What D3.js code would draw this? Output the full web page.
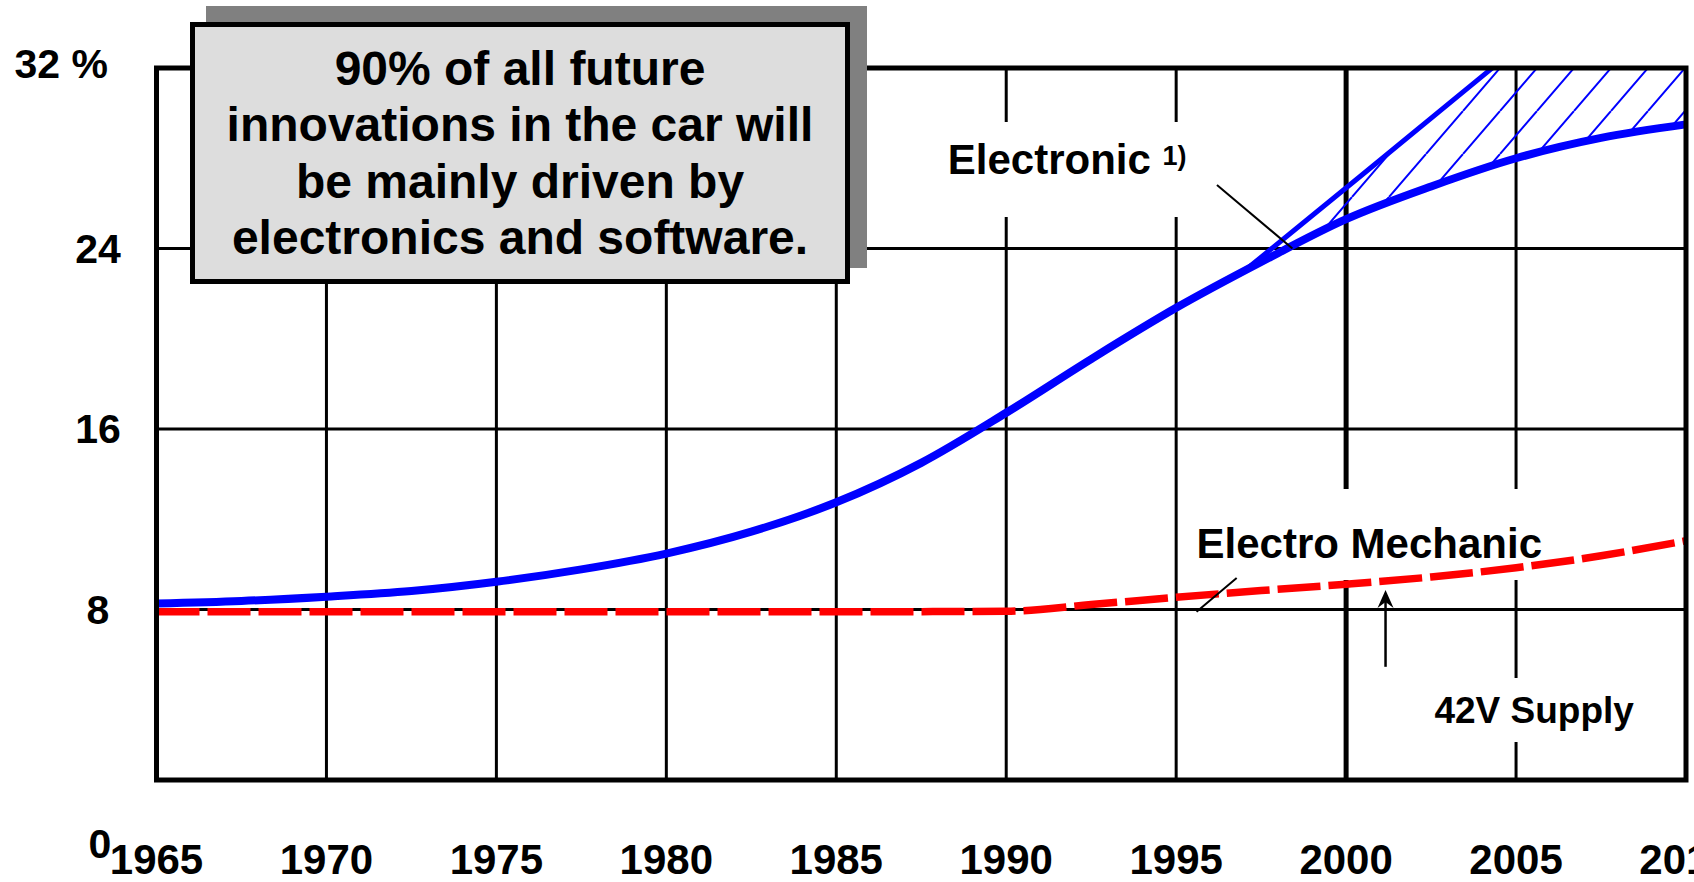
<!DOCTYPE html>
<html>
<head>
<meta charset="utf-8">
<script src="https://cdn.jsdelivr.net/npm/d3@7"></script>
<style>
  body { margin: 0; background: #fff; }
  svg { display: block; font-family: "Liberation Sans", Arial, sans-serif; font-weight: bold; }
</style>
</head>
<body>
<svg id="chart"></svg>
<script>
// x axis years (gridlines + labels)
var years = [1965, 1970, 1975, 1980, 1985, 1990, 1995, 2000, 2005, 2010];
// y gridlines and their labels
var yTicks = [8, 16, 24, 32];
var yTickLabels = ["8", "16", "24", "32 %"];

// Electronic share (solid blue)
var electronicYears  = [1965, 1967.5, 1970, 1972.5, 1975, 1977.5, 1980, 1982.5, 1985, 1987.5, 1990, 1992.5, 1995, 1997.5, 2000, 2002.5, 2005, 2007.5, 2010];
var electronicValues = [8.27, 8.38, 8.57, 8.82, 9.23, 9.78, 10.48, 11.45, 12.75, 14.5, 16.72, 19.1, 21.37, 23.4, 25.3, 26.75, 28.0, 28.9, 29.5];

// upper bound of the hatched band
var upperYears  = [1997.0, 2000.5, 2004.3];
var upperValues = [23.0, 27.3, 32];

// Electro Mechanic share (red dashed)
var mechanicYears  = [1965, 1970, 1975, 1980, 1985, 1990, 1992.5, 1995, 1997.5, 2000, 2002.5, 2005, 2007.5, 2010];
var mechanicValues = [7.9, 7.9, 7.9, 7.9, 7.9, 7.92, 8.22, 8.54, 8.84, 9.12, 9.44, 9.85, 10.38, 11.05];

var boxLines = ["90% of all future", "innovations in the car will", "be mainly driven by", "electronics and software."];

var W = 1694, H = 882;
var frameBottom = 780;

var x = d3.scaleLinear().domain([1965, 2010]).range([156.5, 1686]);
var y = d3.scaleLinear().domain([0, 32]).range([790, 68]);

var electronic = electronicYears.map(function(d, i) { return [d, electronicValues[i]]; });
var upper = upperYears.map(function(d, i) { return [d, upperValues[i]]; });
var mechanic = mechanicYears.map(function(d, i) { return [d, mechanicValues[i]]; });

var svg = d3.select("#chart").attr("width", W).attr("height", H);
var defs = svg.append("defs");

// hatch pattern for the band
var hatch = defs.append("pattern")
    .attr("id", "hatch")
    .attr("patternUnits", "userSpaceOnUse")
    .attr("x", 1685).attr("y", y(32))
    .attr("width", 37).attr("height", 43);
hatch.append("path")
    .attr("d", "M0,43L37,0M-37,43L0,0M37,43L74,0")
    .attr("stroke", "#0000ff").attr("stroke-width", 2).attr("fill", "none");

var line = d3.line().x(function(d) { return x(d[0]); }).y(function(d) { return y(d[1]); }).curve(d3.curveMonotoneX);

// clip: above the electronic curve
defs.append("clipPath").attr("id", "clipA").append("path")
    .attr("d", d3.area().x(function(d) { return x(d[0]); }).y0(y(32)).y1(function(d) { return y(d[1]); })
      .curve(d3.curveMonotoneX)(electronic));
// clip: below the upper bound
var clipB = defs.append("clipPath").attr("id", "clipB");
clipB.append("path")
    .attr("d", d3.area().x(function(d) { return x(d[0]); }).y0(frameBottom).y1(function(d) { return y(d[1]); })
      .curve(d3.curveMonotoneX)(upper));
clipB.append("rect")
    .attr("x", x(upperYears[upperYears.length - 1]) - 1).attr("y", y(32))
    .attr("width", x(2010) - x(upperYears[upperYears.length - 1]) + 1).attr("height", frameBottom - y(32));

// gridlines
svg.append("g").selectAll("line.v")
  .data(years.slice(1, -1))
  .enter().append("line")
    .attr("x1", function(d) { return x(d); }).attr("x2", function(d) { return x(d); })
    .attr("y1", y(32)).attr("y2", frameBottom)
    .attr("stroke", "#000")
    .attr("stroke-width", function(d) { return d === 2000 ? 5 : 3; });

svg.append("g").selectAll("line.h")
  .data(yTicks.slice(0, -1))
  .enter().append("line")
    .attr("x1", x(1965)).attr("x2", x(2010))
    .attr("y1", function(d) { return y(d); }).attr("y2", function(d) { return y(d); })
    .attr("stroke", "#000").attr("stroke-width", 3);

// white masks behind the annotation labels (they break the grid)
var masks = [[940, 122, 260, 95], [1180, 489, 380, 91], [1425, 678, 220, 64]];
svg.append("g").selectAll("rect")
  .data(masks)
  .enter().append("rect")
    .attr("x", function(d) { return d[0]; }).attr("y", function(d) { return d[1]; })
    .attr("width", function(d) { return d[2]; }).attr("height", function(d) { return d[3]; })
    .attr("fill", "#fff");

// hatched band
svg.append("g").attr("clip-path", "url(#clipA)")
  .append("g").attr("clip-path", "url(#clipB)")
  .append("rect")
    .attr("x", x(1965)).attr("y", y(32))
    .attr("width", x(2010) - x(1965)).attr("height", frameBottom - y(32))
    .attr("fill", "url(#hatch)");

// upper bound line
svg.append("path")
    .attr("d", line(upper))
    .attr("fill", "none").attr("stroke", "#0000ff").attr("stroke-width", 5);

// electronic curve
svg.append("path")
    .attr("d", line(electronic))
    .attr("fill", "none").attr("stroke", "#0000ff").attr("stroke-width", 8);

// electro mechanic curve
svg.append("path")
    .attr("d", line(mechanic))
    .attr("fill", "none").attr("stroke", "#ff0000").attr("stroke-width", 7.5)
    .attr("stroke-dasharray", "43 8");

// frame
svg.append("rect")
    .attr("x", x(1965)).attr("y", y(32))
    .attr("width", x(2010) - x(1965)).attr("height", frameBottom - y(32))
    .attr("fill", "none").attr("stroke", "#000").attr("stroke-width", 5);

// text box with shadow
svg.append("rect").attr("x", 206).attr("y", 6).attr("width", 661).attr("height", 262).attr("fill", "#808080");
svg.append("rect").attr("x", 192.5).attr("y", 24.5).attr("width", 655).attr("height", 257)
    .attr("fill", "#dddddd").attr("stroke", "#000").attr("stroke-width", 5);
svg.append("g").selectAll("text")
  .data(boxLines)
  .enter().append("text")
    .attr("x", 520).attr("y", function(d, i) { return 85 + i * 56.3; })
    .attr("text-anchor", "middle").attr("font-size", 48)
    .text(function(d) { return d; });

// y labels
svg.append("g").selectAll("text")
  .data(yTicks)
  .enter().append("text")
    .attr("x", function(d, i) { return i === yTicks.length - 1 ? 108 : 98; })
    .attr("y", function(d, i) { return y(d) + (i === yTicks.length - 1 ? 10 : 14); })
    .attr("text-anchor", function(d, i) { return i === yTicks.length - 1 ? "end" : "middle"; })
    .attr("font-size", 41)
    .text(function(d, i) { return yTickLabels[i]; });
svg.append("text").attr("x", 100).attr("y", 858).attr("text-anchor", "middle").attr("font-size", 41).text("0");

// x labels
svg.append("g").selectAll("text")
  .data(years)
  .enter().append("text")
    .attr("x", function(d) { return x(d); }).attr("y", 874)
    .attr("text-anchor", "middle").attr("font-size", 42)
    .text(function(d) { return d; });

// annotations
svg.append("text").attr("x", x(1988.28)).attr("y", y(27.3)).attr("font-size", 42).text("Electronic");
svg.append("text").attr("x", x(1994.6)).attr("y", y(27.7)).attr("font-size", 27).text("1)");
svg.append("line")
    .attr("x1", x(1996.2)).attr("y1", y(26.81)).attr("x2", x(1998.42)).attr("y2", y(24.0))
    .attr("stroke", "#000").attr("stroke-width", 2);

svg.append("text").attr("x", x(1995.6)).attr("y", y(10.28)).attr("font-size", 42).text("Electro Mechanic");
svg.append("line")
    .attr("x1", x(1996.78)).attr("y1", y(9.4)).attr("x2", x(1995.6)).attr("y2", y(7.9))
    .attr("stroke", "#000").attr("stroke-width", 2);

// 42V supply arrow
var ax = x(2001.16), aTip = y(8.86);
svg.append("line")
    .attr("x1", ax).attr("y1", y(5.46)).attr("x2", ax).attr("y2", aTip + 4)
    .attr("stroke", "#000").attr("stroke-width", 2.5);
svg.append("path")
    .attr("d", "M" + (ax - 8) + "," + (aTip + 18) + "L" + ax + "," + aTip + "L" + (ax + 8) + "," + (aTip + 18) + "L" + ax + "," + (aTip + 12) + "Z")
    .attr("fill", "#000");
svg.append("text").attr("x", x(2002.6)).attr("y", y(2.96)).attr("font-size", 37).text("42V Supply");
</script>
</body>
</html>
